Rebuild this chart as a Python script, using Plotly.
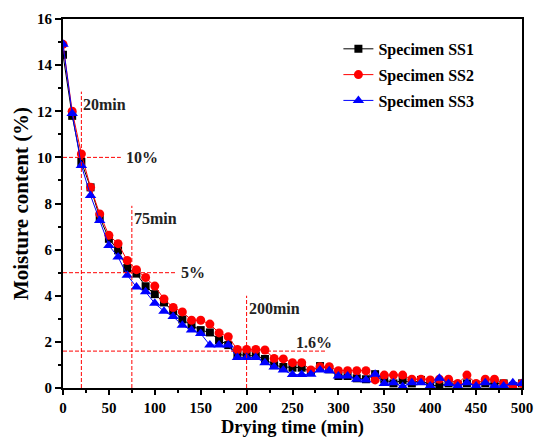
import plotly.graph_objects as go

# Drying time (min)
time_min = [0, 10, 20, 30, 40, 50, 60, 70, 80, 90, 100, 110, 120, 130, 140, 150, 160, 170, 180, 190,
            200, 210, 220, 230, 240, 250, 260, 270, 280, 290, 300, 310, 320, 330, 340, 350, 360, 370,
            380, 390, 400, 410, 420, 430, 440, 450, 460, 470, 480, 490, 500]

ss1 = [14.45, 11.8, 9.8, 8.7, 7.4, 6.47, 5.97, 5.2, 4.96, 4.41, 4.07, 3.71, 3.33, 2.97, 2.72, 2.51,
       2.41, 2.08, 1.86, 1.47, 1.4, 1.4, 1.26, 0.99, 0.91, 0.88, 0.88, 0.71, 0.95, 0.81, 0.52, 0.52,
       0.42, 0.38, 0.6, 0.38, 0.2, 0.35, 0.2, 0.35, 0.13, 0.09, 0.2, 0.13, 0.2, 0.13, 0.2, 0.2, 0.2,
       0.09, 0.2]

ss2 = [14.9, 12.0, 10.15, 8.7, 7.55, 6.62, 6.26, 5.53, 5.13, 4.79, 4.42, 3.86, 3.49, 3.3, 2.94, 2.94,
       2.77, 2.39, 2.22, 1.67, 1.67, 1.67, 1.65, 1.28, 1.26, 1.1, 1.1, 0.78, 0.92, 0.92, 0.75, 0.75,
       0.75, 0.75, 0.35, 0.56, 0.56, 0.56, 0.38, 0.38, 0.35, 0.38, 0.38, 0.2, 0.56, 0.2, 0.38, 0.38,
       0.2, 0.02, 0.2]

ss3 = [14.9, 11.9, 9.65, 8.35, 7.26, 6.18, 5.68, 4.89, 4.38, 4.17, 3.67, 3.33, 3.1, 2.72, 2.51, 2.36,
       1.86, 1.86, 1.86, 1.32, 1.32, 1.32, 1.1, 0.91, 0.78, 0.58, 0.58, 0.6, 0.78, 0.75, 0.52, 0.52,
       0.38, 0.35, 0.6, 0.2, 0.23, 0.06, 0.23, 0.23, 0.09, 0.42, 0.2, 0.09, 0.23, 0.09, 0.23, 0.09,
       0.09, 0.23, 0.2]

series_names = ["Specimen SS1", "Specimen SS2", "Specimen SS3"]
series_values = [ss1, ss2, ss3]
series_colors = ["#000000", "#FF0000", "#0000FF"]
series_symbols = ["square", "circle", "triangle-up"]
series_sizes = [8, 9, 10]

# Reference markers: (time, moisture, label)
ref_times = [20, 75, 200]
ref_time_tops = [12.85, 7.9, 4.0]
ref_time_labels = ["20min", "75min", "200min"]
ref_moist = [10, 5, 1.6]
ref_moist_ends = [63, 123, 286]
ref_moist_labels = ["10%", "5%", "1.6%"]

x_title = "Drying time (min)"
y_title = "Moisture content (%)"

FONT = "Liberation Serif"

fig = go.Figure()
for name, vals, col, sym, sz in zip(series_names, series_values, series_colors, series_symbols, series_sizes):
    fig.add_trace(go.Scatter(
        x=time_min, y=vals, name=name, mode="lines+markers", legendgroup=name,
        line=dict(color=col, width=1),
        marker=dict(symbol=sym, color=col, size=sz, line=dict(width=0)),
    ))

shapes = []
annotations = []
dash_line = dict(color="#FF0000", width=1, dash="4px,2px")
ann_font = dict(family=FONT, size=16, color="#222222", weight="bold")
for t, top, lab in zip(ref_times, ref_time_tops, ref_time_labels):
    shapes.append(dict(type="line", xref="x", yref="y", x0=t, x1=t, y0=0, y1=top, line=dash_line))
    annotations.append(dict(x=t, y=top, xref="x", yref="y", text=lab, showarrow=False,
                            xanchor="left", yanchor="top", xshift=0, yshift=-2, font=ann_font))
for m, end, lab in zip(ref_moist, ref_moist_ends, ref_moist_labels):
    shapes.append(dict(type="line", xref="x", yref="y", x0=0, x1=end, y0=m, y1=m, line=dash_line))
for m, end, lab in zip(ref_moist, ref_moist_ends, ref_moist_labels):
    if lab == "1.6%":
        annotations.append(dict(x=252, y=m, xref="x", yref="y", text=lab, showarrow=False,
                                xanchor="left", yanchor="bottom", yshift=-2, font=ann_font))
    else:
        annotations.append(dict(x=end, y=m, xref="x", yref="y", text=lab, showarrow=False,
                                xanchor="left", yanchor="middle", xshift=3, font=ann_font))

# x-axis title placed as a paper annotation below the tick labels
annotations.append(dict(x=0.5, y=0, xref="paper", yref="paper", text=x_title, showarrow=False,
                        xanchor="center", yanchor="bottom", yshift=-51, borderpad=0,
                        font=dict(family=FONT, size=18.5, color="black", weight="bold")))

axis_common = dict(
    showgrid=False, zeroline=False, showline=True, linecolor="black", linewidth=2,
    mirror=True, ticks="outside", tickwidth=2, tickcolor="black",
    tickfont=dict(family=FONT, size=15, color="black", weight="bold"),
    automargin=False,
)

fig.update_layout(
    width=535, height=439,
    margin=dict(l=63, r=13, t=19, b=51),
    paper_bgcolor="white", plot_bgcolor="white",
    shapes=shapes, annotations=annotations,
    xaxis=dict(range=[0, 500], dtick=50, tick0=0, ticklen=5,
               minor=dict(ticks="outside", ticklen=3, tickwidth=1.5, tickcolor="black", dtick=25),
               **axis_common),
    yaxis=dict(range=[0, 16], dtick=2, tick0=0, ticklen=6,
               minor=dict(ticks="outside", ticklen=3, tickwidth=1.5, tickcolor="black", dtick=1),
               title=dict(text=y_title, font=dict(family=FONT, size=21, color="black", weight="bold"),
                          standoff=3),
               **axis_common),
    legend=dict(x=0.60, y=0.965, xanchor="left", yanchor="top", bgcolor="rgba(0,0,0,0)",
                tracegroupgap=2,
                font=dict(family=FONT, size=16, color="black", weight="bold")),
    showlegend=True,
)

fig.write_html("out.html")
